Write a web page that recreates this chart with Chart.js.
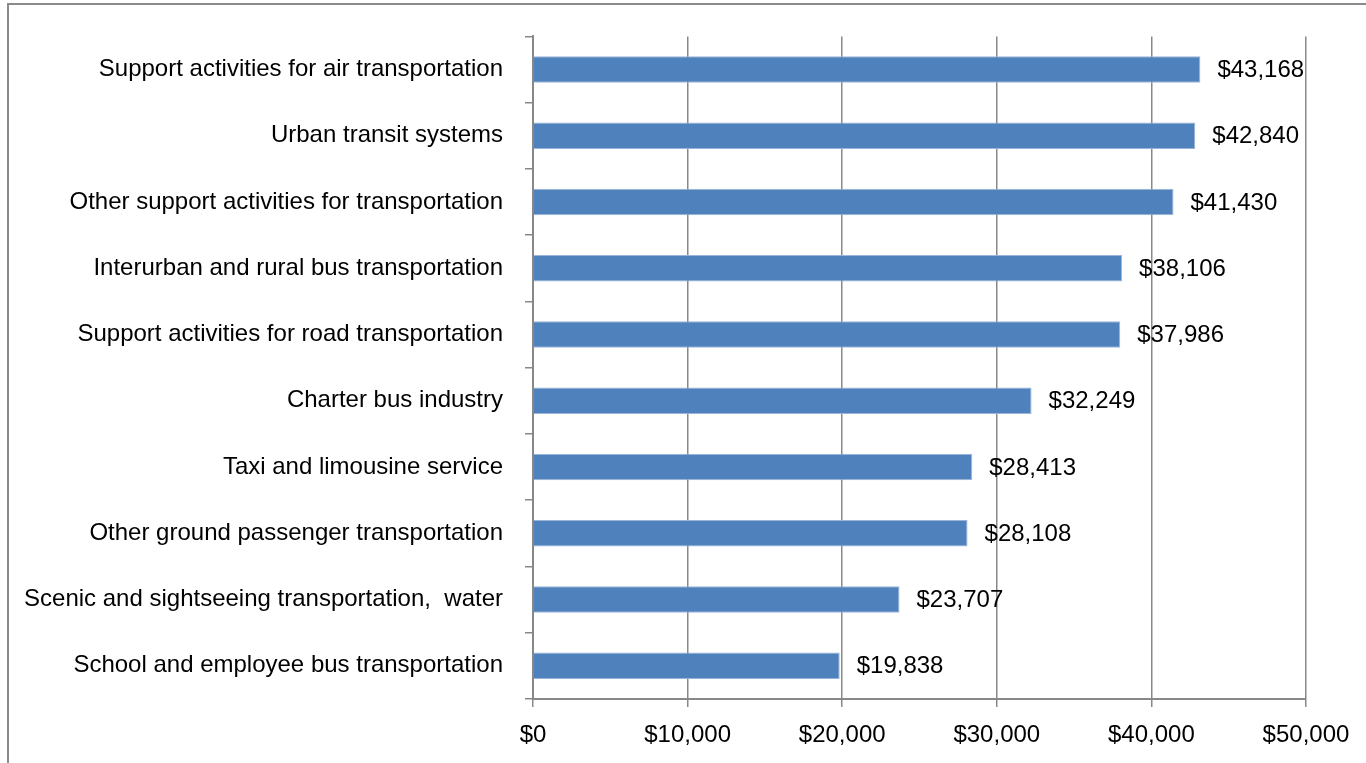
<!DOCTYPE html>
<html>
<head>
<meta charset="utf-8">
<script src="https://cdn.jsdelivr.net/npm/chart.js@4"></script>
<style>
  html, body { margin: 0; padding: 0; background: #fff; }
  #wrap { position: relative; width: 1366px; height: 763px; }
  #frame { position: absolute; left: 7px; top: 3px; width: 1366px; height: 770px;
           border-left: 2px solid #8a8a8a; border-top: 2px solid #8a8a8a; pointer-events: none; }
  canvas { position: absolute; left: 0; top: 0; }
</style>
</head>
<body>
<div id="wrap">
  <canvas id="chart" width="1366" height="763"></canvas>
  <div id="frame"></div>
</div>
<script>
// Average wages, transit and ground passenger transportation industries

const categories = [
    'Support activities for air transportation',
    'Urban transit systems',
    'Other support activities for transportation',
    'Interurban and rural bus transportation',
    'Support activities for road transportation',
    'Charter bus industry',
    'Taxi and limousine service',
    'Other ground passenger transportation',
    'Scenic and sightseeing transportation,  water',
    'School and employee bus transportation'
];
const wages = [43168, 42840, 41430, 38106, 37986, 32249, 28413, 28108, 23707, 19838];
const axisMin = 0;
const axisMax = 50000;
const axisStep = 10000;

const fontFamily = '"Liberation Sans", Arial, sans-serif';
const gridColor = '#888888';

function money(v) {
    return '$' + Number(v).toLocaleString('en-US');
}

// draw the dollar value to the right of every bar
const valueLabels = {
    id: 'valueLabels',
    afterDatasetsDraw(chart) {
        const ctx = chart.ctx;
        const meta = chart.getDatasetMeta(0);
        ctx.save();
        ctx.font = '24px ' + fontFamily;
        ctx.fillStyle = '#000';
        ctx.textAlign = 'left';
        ctx.textBaseline = 'middle';
        meta.data.forEach((bar, i) => {
            ctx.fillText(money(wages[i]), bar.x + 17, bar.y + 1);
        });
        ctx.restore();
    }
};

const chart = new Chart(document.getElementById('chart').getContext('2d'), {
    type: 'bar',
    data: {
        labels: categories,
        datasets: [{
            data: wages,
            backgroundColor: '#4f81bd',
            borderColor: '#9ab5d9',
            borderWidth: 1,
            barPercentage: 0.4,
            categoryPercentage: 1.0
        }]
    },
    options: {
        indexAxis: 'y',
        responsive: false,
        animation: false,
        layout: {
            padding: { top: 32, right: 60, bottom: 0, left: 0 }
        },
        plugins: {
            legend: { display: false },
            tooltip: { enabled: false }
        },
        scales: {
            x: {
                min: axisMin,
                max: axisMax,
                afterFit(scale) { scale.height = 64; },
                ticks: {
                    stepSize: axisStep,
                    padding: 14,
                    color: '#000',
                    font: { family: fontFamily, size: 24 },
                    callback: (v) => money(v),
                    maxRotation: 0
                },
                grid: {
                    color: gridColor,
                    lineWidth: 1.5,
                    tickLength: 8
                },
                border: { color: gridColor, width: 2 }
            },
            y: {
                afterFit(scale) { scale.width = 533; },
                ticks: {
                    padding: 22,
                    color: '#000',
                    font: { family: fontFamily, size: 24 }
                },
                grid: {
                    offset: true,
                    drawOnChartArea: false,
                    color: gridColor,
                    lineWidth: 1.5,
                    tickLength: 8
                },
                border: { color: gridColor, width: 2 }
            }
        }
    },
    plugins: [valueLabels]
});
</script>
</body>
</html>
